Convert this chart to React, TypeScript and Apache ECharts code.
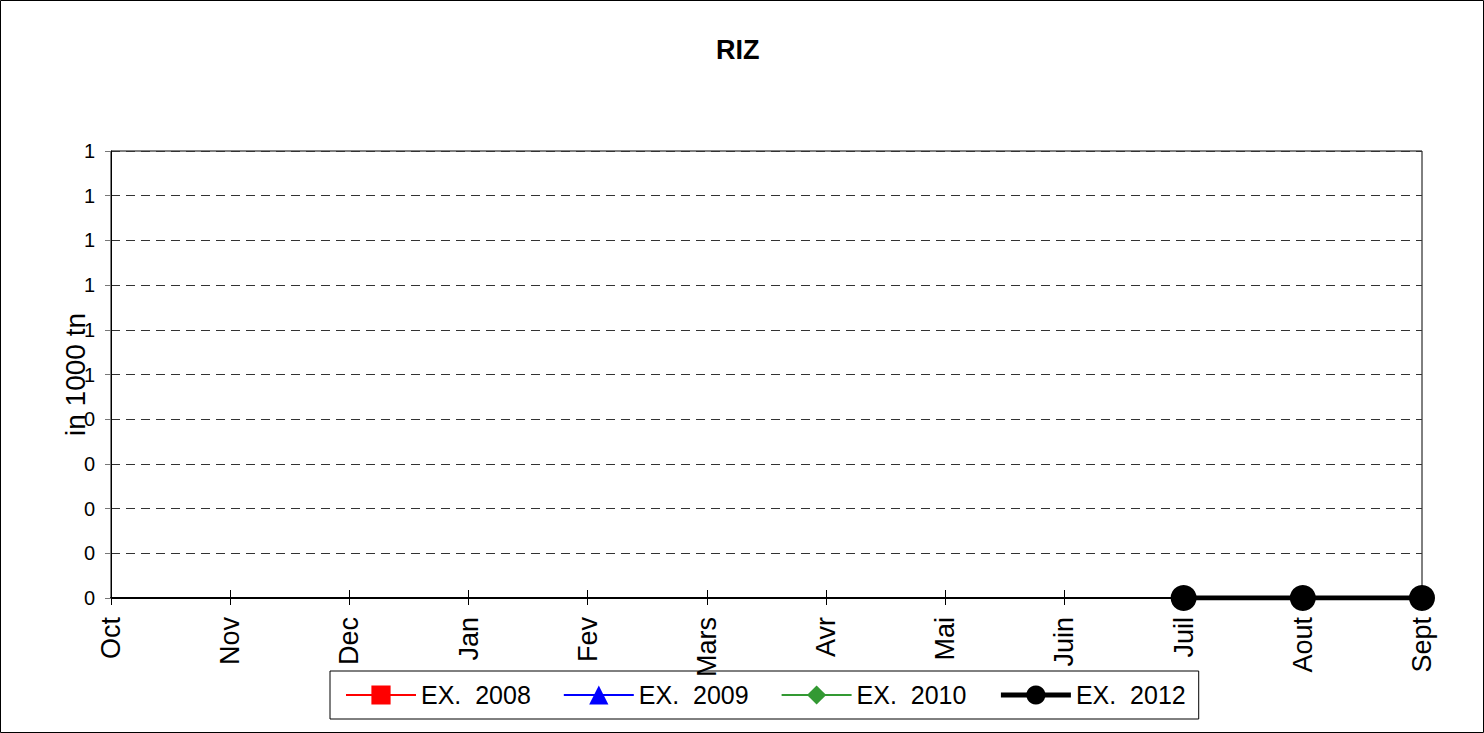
import React, { useEffect, useRef } from "react";
import * as echarts from "echarts";

const months = ["Oct", "Nov", "Dec", "Jan", "Fev", "Mars", "Avr", "Mai", "Juin", "Juil", "Aout", "Sept"];
const ex2008: (number | null)[] = [null, null, null, null, null, null, null, null, null, null, null, null];
const ex2009: (number | null)[] = [null, null, null, null, null, null, null, null, null, null, null, null];
const ex2010: (number | null)[] = [null, null, null, null, null, null, null, null, null, null, null, null];
const ex2012: (number | null)[] = [null, null, null, null, null, null, null, null, null, 0, 0, 0];
const yMin = 0;
const yMax = 1;
const yStep = 0.1;

const FONT = "'Liberation Sans', Arial, sans-serif";

export default function App() {
  const ref = useRef<HTMLDivElement>(null);
  useEffect(() => {
    if (!ref.current) return;
    const chart = echarts.init(ref.current, null, { renderer: "svg" });
    chart.setOption({
      animation: false,
      backgroundColor: "#fff",
      textStyle: { fontFamily: FONT },
      title: {
        text: "RIZ",
        left: 716,
        top: 36,
        padding: 0,
        textStyle: { fontFamily: FONT, fontSize: 27, fontWeight: "bold", color: "#000" },
      },
      graphic: [
        {
          type: "rect",
          shape: { x: 0.5, y: 0.5, width: 1483, height: 732 },
          style: { fill: "none", stroke: "#000", lineWidth: 1 },
          silent: true,
        },
      ],
      legend: {
        left: 330,
        top: 671,
        orient: "horizontal",
        borderColor: "#000",
        borderWidth: 1,
        padding: [10, 13, 10, 15],
        itemGap: 32,
        itemWidth: 70,
        itemHeight: 24,
        textStyle: { fontFamily: FONT, fontSize: 25, color: "#000", lineHeight: 28 },
        data: [
          { name: "EX.  2008", lineStyle: { width: 2 } },
          { name: "EX.  2009", lineStyle: { width: 2 } },
          { name: "EX.  2010", lineStyle: { width: 2 } },
          { name: "EX.  2012", lineStyle: { width: 5 } },
        ],
      },
      grid: {
        left: 111,
        right: 62,
        top: 151,
        bottom: 135,
        show: true,
        borderColor: "#000",
        borderWidth: 1,
        backgroundColor: "transparent",
      },
      xAxis: [
        {
          type: "category",
          data: months,
          boundaryGap: false,
          position: "bottom",
          axisLine: { show: true, onZero: false, lineStyle: { color: "#000", width: 2 } },
          axisTick: { show: true, length: 7, lineStyle: { color: "#000" } },
          axisLabel: {
            rotate: 90,
            margin: 19,
            fontFamily: FONT,
            fontSize: 27,
            color: "#000",
            interval: 0,
          },
          splitLine: { show: false },
        },
        {
          type: "category",
          data: months,
          boundaryGap: false,
          position: "bottom",
          axisLine: { show: false },
          axisTick: { show: true, inside: true, length: 8, lineStyle: { color: "#000" } },
          axisLabel: { show: false },
          splitLine: { show: false },
        },
      ],
      yAxis: {
        type: "value",
        min: yMin,
        max: yMax,
        interval: yStep,
        name: "in 1000 tn",
        nameLocation: "middle",
        nameGap: 22,
        nameMoveOverlap: false,
        nameTextStyle: { fontFamily: FONT, fontSize: 28, color: "#000" },
        axisLine: { show: true, lineStyle: { color: "#000", width: 1 } },
        axisTick: { show: true, length: 6, lineStyle: { color: "#777" } },
        axisLabel: {
          margin: 16,
          fontFamily: FONT,
          fontSize: 20,
          color: "#000",
          formatter: (v: number) => String(Math.round(v)),
        },
        splitLine: { show: true, lineStyle: { color: "#333", width: 1, type: [9, 6] } },
      },
      series: [
        {
          name: "EX.  2008",
          type: "line",
          data: ex2008,
          symbol: "rect",
          symbolSize: 14,
          itemStyle: { color: "#ff0000" },
          lineStyle: { color: "#ff0000", width: 2 },
        },
        {
          name: "EX.  2009",
          type: "line",
          data: ex2009,
          symbol: "triangle",
          symbolSize: 14,
          itemStyle: { color: "#0000ff" },
          lineStyle: { color: "#0000ff", width: 2 },
        },
        {
          name: "EX.  2010",
          type: "line",
          data: ex2010,
          symbol: "diamond",
          symbolSize: 14,
          itemStyle: { color: "#339933" },
          lineStyle: { color: "#339933", width: 2 },
        },
        {
          name: "EX.  2012",
          type: "line",
          data: ex2012,
          symbol: "circle",
          symbolSize: 26,
          z: 5,
          itemStyle: { color: "#000" },
          lineStyle: { color: "#000", width: 5 },
        },
      ],
    });
    return () => chart.dispose();
  }, []);
  return <div ref={ref} style={{ position: "absolute", left: 0, top: 0, width: 1484, height: 733 }} />;
}
